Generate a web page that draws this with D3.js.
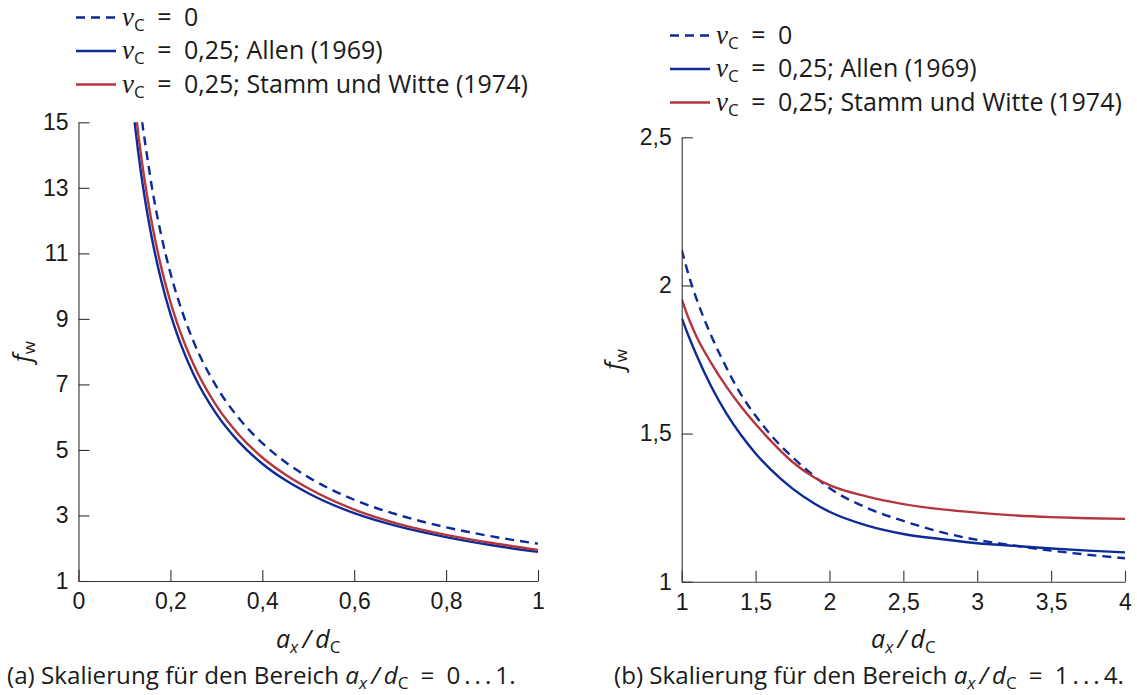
<!DOCTYPE html>
<html>
<head>
<meta charset="utf-8">
<script src="https://cdn.jsdelivr.net/npm/d3@7"></script>
<style>
  body { margin: 0; background: #fff; }
  text { font-family: "Open Sans", sans-serif; fill: #1a1a1a; font-size: 25px; }
  text.caption { font-size: 24.2px; }
  .axis path, .axis line { stroke: #333; stroke-width: 1.1; }
  .axis text { font-family: "Liberation Sans", sans-serif; font-size: 23px; }
</style>
</head>
<body>
<script>
// panel (a): a_x/d_C = 0 ... 1
const xA = [0.12, 0.13, 0.14, 0.15, 0.16, 0.18, 0.2, 0.22, 0.25, 0.3, 0.35, 0.4, 0.45, 0.5, 0.6, 0.7, 0.8, 0.9, 1.0];
const nu0A = [17.3, 16.0, 14.86, 13.9, 13.0, 11.56, 10.4, 9.46, 8.32, 6.94, 5.95, 5.21, 4.63, 4.17, 3.48, 3.0, 2.64, 2.36, 2.14];
const allenA = [15.25, 14.08, 13.07, 12.2, 11.44, 10.17, 9.15, 8.32, 7.32, 6.1, 5.23, 4.58, 4.08, 3.68, 3.07, 2.65, 2.34, 2.09, 1.89];
const stammA = [15.9, 14.65, 13.6, 12.7, 11.9, 10.58, 9.52, 8.66, 7.62, 6.35, 5.45, 4.77, 4.25, 3.83, 3.18, 2.73, 2.41, 2.16, 1.95];

// panel (b): a_x/d_C = 1 ... 4
const xB = [1, 1.05, 1.1, 1.2, 1.3, 1.4, 1.5, 1.6, 1.75, 1.9, 2.0, 2.25, 2.5, 2.75, 3.0, 3.25, 3.5, 3.75, 4.0];
const nu0B = [2.12, 2.03, 1.955, 1.83, 1.725, 1.633, 1.56, 1.497, 1.42, 1.355, 1.316, 1.25, 1.205, 1.168, 1.141, 1.122, 1.105, 1.091, 1.079];
const allenB = [1.89, 1.825, 1.765, 1.659, 1.57, 1.496, 1.433, 1.38, 1.314, 1.263, 1.236, 1.19, 1.161, 1.144, 1.13, 1.121, 1.112, 1.105, 1.099];
const stammB = [1.954, 1.885, 1.828, 1.738, 1.66, 1.592, 1.532, 1.477, 1.404, 1.351, 1.326, 1.288, 1.262, 1.245, 1.233, 1.224, 1.218, 1.214, 1.212];

const xTicksA = [0, 0.2, 0.4, 0.6, 0.8, 1];
const yTicksA = [1, 3, 5, 7, 9, 11, 13, 15];
const xTicksB = [1, 1.5, 2, 2.5, 3, 3.5, 4];
const yTicksB = [1, 1.5, 2, 2.5];

const legendRest = ["0", "0,25; Allen (1969)", "0,25; Stamm und Witte (1974)"];
const captions = [["(a)", "0\u2009.\u2009.\u2009.\u20091."], ["(b)", "1\u2009.\u2009.\u2009.\u20094."]];

const styles = [
  { color: "#0d2a99", dash: "9,6" },
  { color: "#0d2a99", dash: null },
  { color: "#b3363d", dash: null }
];

const panels = [
  { xs: xA, series: [nu0A, allenA, stammA], xDomain: [0, 1], yDomain: [1, 15], xTicks: xTicksA, yTicks: yTicksA,
    left: 78.5, right: 538, top: 122.3, bottom: 581, legendX: 76, legendY: 17.5, yTitleX: 31, captionX: 7, caption: captions[0] },
  { xs: xB, series: [nu0B, allenB, stammB], xDomain: [1, 4], yDomain: [1, 2.5], xTicks: xTicksB, yTicks: yTicksB,
    left: 681.7, right: 1125, top: 137.3, bottom: 581.7, legendX: 670, legendY: 35.5, yTitleX: 623, captionX: 614, caption: captions[1] }
];

const fmt = d3.formatLocale({ decimal: ",", thousands: ".", grouping: [3], currency: ["", ""] }).format(".1~f");
const eq = "\u2002=\u2002";

const svg = d3.select("body").append("svg")
  .attr("width", 1137)
  .attr("height", 695);

const addNu = (t, rest) => {
  t.append("tspan").attr("font-family", "Liberation Serif").attr("font-style", "italic").attr("font-size", 27).text("\u03bd");
  t.append("tspan").attr("font-size", 17).attr("dy", 5).text("C");
  t.append("tspan").attr("dy", -5).text(eq + rest);
};

const addRatio = (t) => {
  t.append("tspan").attr("font-style", "italic").text("a");
  t.append("tspan").attr("font-style", "italic").attr("font-size", 17).attr("dy", 5).text("x");
  t.append("tspan").attr("font-style", "italic").attr("dy", -5).text("\u2009/\u2009");
  t.append("tspan").attr("font-style", "italic").text("d");
  t.append("tspan").attr("font-size", 17).attr("dy", 5).text("C");
};

const drawPanel = (p, idx) => {
  const x = d3.scaleLinear().domain(p.xDomain).range([p.left, p.right]);
  const y = d3.scaleLinear().domain(p.yDomain).range([p.bottom, p.top]);

  svg.append("clipPath")
    .attr("id", "clip" + idx)
    .append("rect")
    .attr("x", p.left)
    .attr("y", p.top)
    .attr("width", p.right - p.left)
    .attr("height", p.bottom - p.top);

  const line = d3.line()
    .x(d => x(d[0]))
    .y(d => y(d[1]))
    .curve(d3.curveMonotoneX);

  const g = svg.append("g").attr("clip-path", `url(#clip${idx})`);
  p.series.forEach((vals, i) => {
    g.append("path")
      .attr("d", line(p.xs.map((v, k) => [v, vals[k]])))
      .attr("fill", "none")
      .attr("stroke", styles[i].color)
      .attr("stroke-width", 2.4)
      .attr("stroke-dasharray", styles[i].dash);
  });

  svg.append("g")
    .attr("class", "axis")
    .attr("transform", `translate(${p.left},0)`)
    .call(d3.axisLeft(y).tickValues(p.yTicks).tickSizeInner(-11).tickSizeOuter(0).tickPadding(10).tickFormat(fmt));

  svg.append("g")
    .attr("class", "axis")
    .attr("transform", `translate(0,${p.bottom})`)
    .call(d3.axisBottom(x).tickValues(p.xTicks).tickSizeInner(-11).tickSizeOuter(0).tickPadding(12).tickFormat(fmt));

  // y title f_w
  const yt = svg.append("text")
    .attr("transform", `translate(${p.yTitleX},${(p.top + p.bottom) / 2}) rotate(-90)`)
    .attr("text-anchor", "middle");
  yt.append("tspan").attr("font-style", "italic").text("f");
  yt.append("tspan").attr("font-size", 17).attr("dy", 4).text("w");

  // x title a_x/d_C
  const xt = svg.append("text")
    .attr("x", (p.left + p.right) / 2)
    .attr("y", 648)
    .attr("text-anchor", "middle");
  addRatio(xt);

  // legend
  legendRest.forEach((rest, i) => {
    const ly = p.legendY + i * 33.5;
    svg.append("line")
      .attr("x1", p.legendX)
      .attr("x2", p.legendX + 40)
      .attr("y1", ly)
      .attr("y2", ly)
      .attr("stroke", styles[i].color)
      .attr("stroke-width", 2.4)
      .attr("stroke-dasharray", styles[i].dash);
    const t = svg.append("text")
      .attr("x", p.legendX + 46)
      .attr("y", ly + 8);
    addNu(t, rest);
  });

  // caption
  const ct = svg.append("text")
    .attr("class", "caption")
    .attr("x", p.captionX)
    .attr("y", 684);
  ct.append("tspan").text(p.caption[0] + " Skalierung f\u00fcr den Bereich ");
  addRatio(ct);
  ct.append("tspan").attr("dy", -5).text(eq + p.caption[1]);
};

panels.forEach(drawPanel);
</script>
</body>
</html>
